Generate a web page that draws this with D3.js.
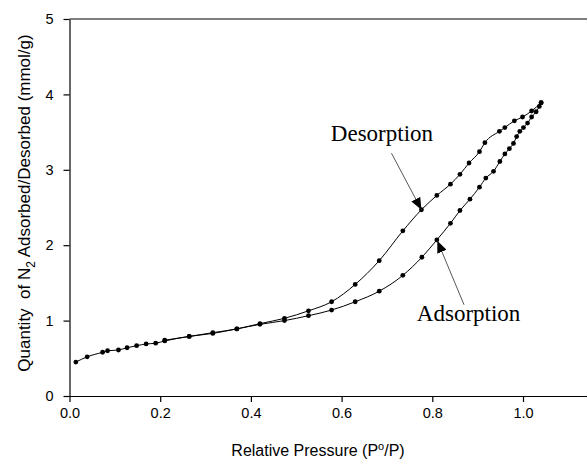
<!DOCTYPE html>
<html>
<head>
<meta charset="utf-8">
<script src="https://cdn.jsdelivr.net/npm/d3@7"></script>
<style>
  body { margin: 0; background: #fff; }
  svg { display: block; }
  .axis text { font-family: 'Liberation Sans', Arial, sans-serif; font-size: 14.5px; fill: #000; }
  .axis path, .axis line { stroke: #000; stroke-width: 1.2; }
  .title { font-family: 'Liberation Sans', Arial, sans-serif; font-size: 16px; fill: #000; }
  .ytitle { font-size: 17px; }
  .note { font-family: 'Liberation Serif', 'Times New Roman', serif; font-size: 23px; fill: #000; }
</style>
</head>
<body>
<div id="chart"></div>
<script>
// adsorption branch (relative pressure, quantity mmol/g)
const adsorpP = [0.014, 0.039, 0.073, 0.084, 0.108, 0.127, 0.148, 0.169, 0.19, 0.21, 0.264, 0.316, 0.369, 0.42,
  0.474, 0.527, 0.578, 0.63, 0.683, 0.735, 0.777, 0.81, 0.84, 0.861, 0.883, 0.904, 0.918, 0.935, 0.949,
  0.96, 0.97, 0.979, 0.986, 0.993, 1.001, 1.01, 1.019, 1.029, 1.036, 1.04];
const adsorpQ = [0.45, 0.52, 0.58, 0.60, 0.61, 0.64, 0.667, 0.69, 0.70, 0.73, 0.79, 0.83, 0.89, 0.95,
  1.0, 1.065, 1.14, 1.25, 1.39, 1.60, 1.84, 2.07, 2.29, 2.46, 2.61, 2.77, 2.89, 2.98, 3.11,
  3.21, 3.28, 3.35, 3.44, 3.51, 3.56, 3.62, 3.70, 3.77, 3.84, 3.89];

// desorption branch
const desorpP = [1.04, 1.019, 0.999, 0.981, 0.96, 0.948, 0.916, 0.904, 0.881, 0.861, 0.84, 0.81, 0.776,
  0.735, 0.683, 0.63, 0.578, 0.527, 0.474, 0.42, 0.369, 0.316, 0.264, 0.21];
const desorpQ = [3.89, 3.78, 3.70, 3.65, 3.56, 3.51, 3.36, 3.24, 3.09, 2.94, 2.81, 2.66, 2.47,
  2.19, 1.795, 1.48, 1.25, 1.13, 1.03, 0.96, 0.89, 0.84, 0.79, 0.74];

const xTicks = [0, 0.2, 0.4, 0.6, 0.8, 1.0];
const yTicks = [0, 1, 2, 3, 4, 5];

// annotation anchors in data units: [label, label x, label y, arrow start x, y, arrow tip x, y]
const desorpNote = ['Desorption', 0.689, 3.38, 0.71, 3.22, 0.776, 2.47];
const adsorpNote = ['Adsorption', 0.880, 1.0, 0.87, 1.21, 0.811, 2.06];

const width = 587, height = 461;
const margin = { left: 69.5, top: 19, bottom: 65 };

const svg = d3.select('#chart').append('svg')
  .attr('width', width)
  .attr('height', height);

const x = d3.scaleLinear().domain([0, 1.2]).range([margin.left, margin.left + 453.5 * 1.2]);
const y = d3.scaleLinear().domain([0, 5]).range([height - margin.bottom, margin.top]);

// frame (top border runs off the right edge like the original)
svg.append('line')
  .attr('x1', x(0)).attr('x2', x(1.2))
  .attr('y1', y(5)).attr('y2', y(5))
  .attr('stroke', '#000').attr('stroke-width', 1.2);

const xAxis = d3.axisBottom(x).tickValues(xTicks).tickSize(6).tickSizeOuter(0).tickPadding(6)
  .tickFormat(d3.format('.1f'));
const yAxis = d3.axisLeft(y).tickValues(yTicks).tickSize(6).tickSizeOuter(0).tickPadding(10)
  .tickFormat(d3.format('d'));

svg.append('g').attr('class', 'x axis')
  .attr('transform', 'translate(0,' + y(0) + ')')
  .call(xAxis);

svg.append('g').attr('class', 'y axis')
  .attr('transform', 'translate(' + x(0) + ',0)')
  .call(yAxis);

// axis titles
svg.append('text').attr('class', 'title')
  .attr('x', 318).attr('y', 456)
  .attr('text-anchor', 'middle')
  .html('Relative Pressure (P<tspan dy="-6" font-size="11">o</tspan><tspan dy="6">/P)</tspan>');

svg.append('text').attr('class', 'title ytitle')
  .attr('transform', 'translate(30,' + 203 + ') rotate(-90)')
  .attr('text-anchor', 'middle')
  .html('Quantity&#160;&#160;of N<tspan dy="5" font-size="12">2</tspan><tspan dy="-5"> Adsorbed/Desorbed (mmol/g)</tspan>');

// curves
const line = d3.line()
  .curve(d3.curveMonotoneX)
  .x((d) => { return x(d.p); })
  .y((d) => { return y(d.q); });

const series = [
  adsorpP.map((p, i) => ({ p: p, q: adsorpQ[i] })),
  desorpP.map((p, i) => ({ p: p, q: desorpQ[i] })).sort((a, b) => a.p - b.p)
];

series.forEach((data) => {
  svg.append('path')
    .datum(data)
    .attr('fill', 'none')
    .attr('stroke', '#000')
    .attr('stroke-width', 1)
    .attr('d', line);

  svg.selectAll(null).data(data)
    .enter()
      .append('circle')
      .attr('r', 2.4)
      .attr('fill', '#000')
      .attr('cx', (d) => { return x(d.p); })
      .attr('cy', (d) => { return y(d.q); });
});

// arrowhead
svg.append('defs').append('marker')
  .attr('id', 'head')
  .attr('markerUnits', 'userSpaceOnUse')
  .attr('viewBox', '0 0 12 10')
  .attr('refX', 12).attr('refY', 5)
  .attr('markerWidth', 12).attr('markerHeight', 10)
  .attr('orient', 'auto')
  .append('path')
  .attr('d', 'M0,0L12,5L0,10Z')
  .attr('fill', '#000');

[desorpNote, adsorpNote].forEach((n) => {
  svg.append('text').attr('class', 'note')
    .attr('x', x(n[1])).attr('y', y(n[2]))
    .attr('text-anchor', 'middle')
    .text(n[0]);
  svg.append('line')
    .attr('x1', x(n[3])).attr('y1', y(n[4]))
    .attr('x2', x(n[5])).attr('y2', y(n[6]))
    .attr('stroke', '#444')
    .attr('stroke-width', 0.9)
    .attr('marker-end', 'url(#head)');
});
</script>
</body>
</html>
